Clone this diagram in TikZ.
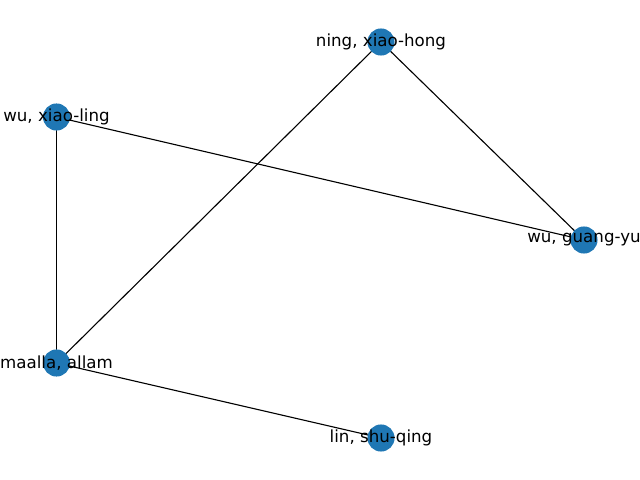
\documentclass[tikz,border=0pt]{standalone}
\usepackage{fontspec}
\setmainfont{DejaVu Sans}
\definecolor{nxblue}{HTML}{1F77B4}
\begin{document}
\begin{tikzpicture}[x=0.72pt,y=-0.72pt,
  vert/.style={circle,fill=nxblue,minimum size=19.5pt,inner sep=0pt},
  lab/.style={font=\fontsize{12}{14}\selectfont,inner sep=0pt},
  edge/.style={line width=0.8pt,black}]
\useasboundingbox (0,0) rectangle (640,480);
\coordinate (n) at (381,42);
\coordinate (x) at (56.5,117);
\coordinate (g) at (584,240);
\coordinate (m) at (56.5,363);
\coordinate (l) at (381,438);
\draw[edge] (x) -- (m);
\draw[edge] (x) -- (g);
\draw[edge] (n) -- (m);
\draw[edge] (n) -- (g);
\draw[edge] (m) -- (l);
\node[vert] (vn) at (n) {};
\node[vert] (vx) at (x) {};
\node[vert] (vg) at (g) {};
\node[vert] (vm) at (m) {};
\node[vert] (vl) at (l) {};
\node[lab] (tn) at (n) {ning, xiao-hong};
\node[lab] (tx) at (x) {wu, xiao-ling};
\node[lab] (tg) at (g) {wu, guang-yu};
\node[lab] (tm) at (m) {maalla, allam};
\node[lab] (tl) at (l) {lin, shu-qing};
\end{tikzpicture}
\end{document}
